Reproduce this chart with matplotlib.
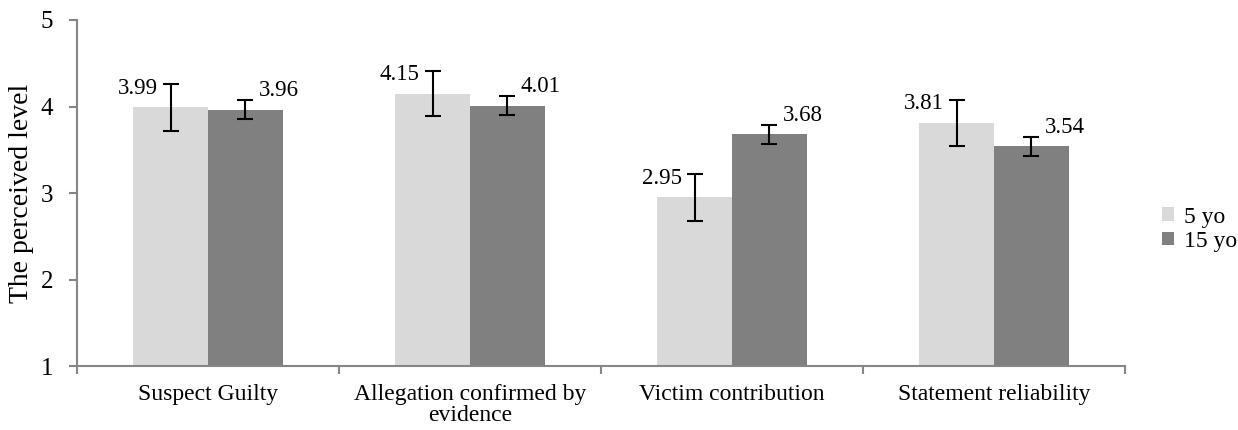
import matplotlib
matplotlib.use("Agg")
import matplotlib.pyplot as plt
import numpy as np

categories = ["Suspect Guilty", "Allegation confirmed by\nevidence", "Victim contribution", "Statement reliability"]
series_names = ["5 yo", "15 yo"]
vals_5 = [3.99, 4.15, 2.95, 3.81]
vals_15 = [3.96, 4.01, 3.68, 3.54]
err_5 = [0.27, 0.26, 0.27, 0.27]
err_15 = [0.11, 0.11, 0.11, 0.11]
yticks = [1, 2, 3, 4, 5]

plt.rcParams['font.family'] = ['Liberation Serif', 'DejaVu Serif']

fig = plt.figure(figsize=(12.38, 4.30), dpi=100)
ax = fig.add_axes([0.0622, 0.1488, 0.9087 - 0.0622, 0.9535 - 0.1488])

x = np.arange(len(categories))
w = 0.286
light = '#d9d9d9'
dark = '#808080'
spine_c = '#868686'

ax.bar(x - w/2, [v - 1 for v in vals_5], w, bottom=1, color=light, label=series_names[0], zorder=2)
ax.bar(x + w/2, [v - 1 for v in vals_15], w, bottom=1, color=dark, label=series_names[1], zorder=2)
ax.errorbar(x - w/2, vals_5, yerr=err_5, fmt='none', ecolor='black', elinewidth=1.5, capsize=5.5, capthick=1.5, zorder=3)
ax.errorbar(x + w/2, vals_15, yerr=err_15, fmt='none', ecolor='black', elinewidth=1.5, capsize=5.5, capthick=1.5, zorder=3)

for xi, v in zip(x - w/2, vals_5):
    ax.annotate(f"{v:.2f}", (xi, v), xytext=(-33, 19), textcoords='offset pixels',
                ha='center', va='center', fontsize=16.5)
for xi, v in zip(x + w/2, vals_15):
    ax.annotate(f"{v:.2f}", (xi, v), xytext=(33, 19), textcoords='offset pixels',
                ha='center', va='center', fontsize=16.5)

ax.set_xlim(-0.5, len(categories) - 0.5)
ax.set_ylim(1, 5)
ax.set_yticks(yticks)
ax.set_yticklabels([str(t) for t in yticks], fontsize=18)
ax.set_xticks(x)
ax.set_xticklabels(categories, fontsize=17, linespacing=1.0)
ax.set_xticks(np.arange(len(categories) + 1) - 0.5, minor=True)
ax.tick_params(axis='x', which='major', length=0, pad=13)
ax.tick_params(axis='x', which='minor', length=6, width=1.5, color=spine_c, direction='out')
ax.tick_params(axis='y', length=6, width=1.5, color=spine_c, direction='out', pad=11)
ax.set_ylabel("The perceived level", fontsize=20, labelpad=5)

for s in ['top', 'right']:
    ax.spines[s].set_visible(False)
for s in ['left', 'bottom']:
    ax.spines[s].set_color(spine_c)
    ax.spines[s].set_linewidth(1.5)

leg = ax.legend(loc='center left', bbox_to_anchor=(1.02, 0.395), frameon=False, fontsize=17,
                handlelength=0.5, handleheight=0.5, handletextpad=0.4, labelspacing=0.15,
                borderpad=0.2)

fig.savefig("out.png", dpi=100)
